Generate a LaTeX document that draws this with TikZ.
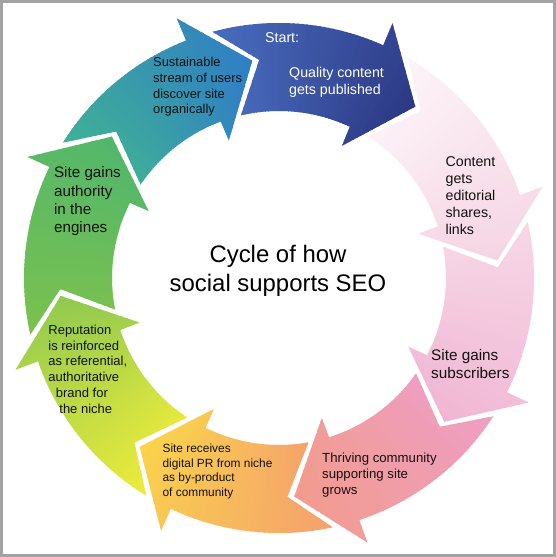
\documentclass[tikz,border=0pt]{standalone}
\usepackage{fontspec}
\setmainfont{Liberation Sans}
\definecolor{frame}{HTML}{A3A3A3}
\definecolor{ink}{HTML}{111111}
\definecolor{cAh}{HTML}{2B3681}\definecolor{cAt}{HTML}{4A70C2}
\definecolor{cBh}{HTML}{F5D3E3}\definecolor{cBt}{HTML}{FDF6F9}
\definecolor{cCh}{HTML}{F0B4D2}\definecolor{cCt}{HTML}{F7DAE8}
\definecolor{cDh}{HTML}{F29C8A}\definecolor{cDt}{HTML}{EE9EC8}
\definecolor{cEh}{HTML}{FBD64A}\definecolor{cEt}{HTML}{F49D70}
\definecolor{cFh}{HTML}{8CC850}\definecolor{cFt}{HTML}{F3EE3A}
\definecolor{cGh}{HTML}{4FB66E}\definecolor{cGt}{HTML}{7EC24C}
\definecolor{cHh}{HTML}{2F7BC8}\definecolor{cHt}{HTML}{40B592}
\newcommand{\txtlines}[7]{%
  \foreach \tline [count=\tidx] in {#7}{%
    \node[lbl, text=#6, font=\fontsize{#5}{#5}\selectfont] (#1-\tidx) at (#2, {#3-(\tidx-1)*#4}) {\tline};
  }}
\begin{document}
\begin{tikzpicture}[x=1pt,y=1pt, lbl/.style={anchor=base west, inner sep=0pt}]
\useasboundingbox (0,0) rectangle (556,557);
\fill[white] (0,0) rectangle (556,557);
\begin{scope}[shift={(279,279)}]
\foreach \t/\p/\ha/\ta in {51.5/97/cAh/cAt, 4.6/51.5/cBh/cBt, -41/4.6/cCh/cCt, -86/-41/cDh/cDt, -129.5/-86/cEh/cEt, -175.3/-129.5/cFh/cFt, -220.2/-175.3/cGh/cGt, -263/-220.2/cHh/cHt}{
  \pgfmathsetmacro{\aTo}{\p+9.93-1.8}
  \pgfmathsetmacro{\aHo}{\t+14.35}
  \pgfmathsetmacro{\aWo}{\t+14.5}
  \pgfmathsetmacro{\aWi}{\t+13}
  \pgfmathsetmacro{\aHi}{\t+13.39}
  \pgfmathsetmacro{\aTi}{\p+7.97-1.8}
  \pgfmathsetmacro{\aN}{\p-1.8}
  \begin{scope}
    \clip (\aTo:255) arc[start angle=\aTo, end angle=\aHo, radius=255]
      -- (\aWo:279) -- (\t:219) -- (\aWi:146.5) -- (\aHi:167)
      arc[start angle=\aHi, end angle=\aTi, radius=167] -- (\aN:219) -- cycle;
    \pgfmathsetmacro{\wz}{\t-3}
    \pgfmathtruncatemacro{\wn}{\p+12-\t+3}
    \foreach \j in {0,...,\wn}{
      \pgfmathsetmacro{\wa}{\wz+\j}
      \pgfmathsetmacro{\wb}{\wz+\j+1.4}
      \pgfmathtruncatemacro{\wpct}{100*\j/\wn}
      \fill[fill=\ta!\wpct!\ha] (0,0) -- (\wa:300) -- (\wb:300) -- cycle;
    }
  \end{scope}
}
\end{scope}
\draw[line width=3pt, frame] (1.5,1.5) rectangle (554.5,555.5);
% texts
\txtlines{start}{265}{514.3}{17.3}{14.2}{white}{{Start:}}
\txtlines{quality}{289}{479.6}{17.3}{14.2}{white}{{Quality content},{gets published}}
\txtlines{sustain}{153}{490.3}{15.7}{12.9}{ink}{{Sustainable},{stream of users},{discover site},{organically}}
\txtlines{content}{445.4}{390.6}{17.1}{14.2}{ink}{{Content},{gets},{editorial},{shares,},{links}}
\txtlines{subscr}{431}{196.3}{18.3}{15.3}{ink}{{Site gains},{subscribers}}
\txtlines{thriving}{322}{94.1}{16}{13.2}{ink}{{Thriving community},{supporting site},{grows}}
\txtlines{digital}{162.4}{104.1}{14.4}{11.9}{ink}{{Site receives},{digital PR from niche},{as by-product},{of community}}
\txtlines{reput}{48.2}{222.7}{15.8}{13}{ink}{{Reputation},{is reinforced},{as referential,},{authoritative},{\hspace*{7.5pt}brand for},{\hspace*{11pt}the niche}}
\txtlines{authority}{53.9}{379.3}{18.4}{15.2}{ink}{{Site gains},{authority},{in the},{engines}}
\node[anchor=base, inner sep=0pt, font=\fontsize{23.9}{23.9}\selectfont, text=black] (title1) at (278,294.4) {Cycle of how};
\node[anchor=base, inner sep=0pt, font=\fontsize{23.9}{23.9}\selectfont, text=black] (title2) at (278,265.8) {social supports SEO};
\end{tikzpicture}
\end{document}
